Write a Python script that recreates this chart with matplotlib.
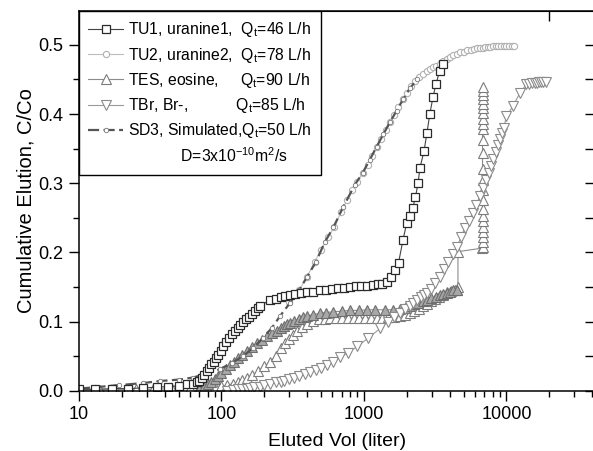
import matplotlib
matplotlib.use("Agg")
import matplotlib.pyplot as plt
from matplotlib.lines import Line2D
from matplotlib.ticker import LogLocator, MultipleLocator, FuncFormatter, NullFormatter, FixedLocator

plt.rcParams['font.family'] = ['Liberation Sans', 'DejaVu Sans']
plt.rcParams['mathtext.default'] = 'regular'

# TU1, uranine1 (squares)
tu1_x = [10, 13, 17, 22, 28, 35, 42, 50, 57, 63, 67, 70, 73, 76, 79, 82, 85, 88, 91, 95,
         99, 103, 108, 113, 118, 124, 130, 136, 142, 149, 156, 164, 172, 180, 187, 220, 240, 260, 280, 303,
         330, 360, 400, 440, 490, 540, 600, 660, 730, 800, 880, 960, 1050, 1150, 1250, 1350,
         1450, 1550, 1650, 1750, 1880, 2000, 2100, 2200, 2300, 2400, 2470, 2640, 2770, 2900,
         3050, 3200, 3400, 3600]
tu1_y = [0.002, 0.002, 0.003, 0.003, 0.004, 0.005, 0.006, 0.007, 0.009, 0.010, 0.012, 0.014, 0.018, 0.023, 0.028, 0.033, 0.038, 0.042, 0.047, 0.052,
         0.058, 0.064, 0.070, 0.076, 0.082, 0.087, 0.091, 0.095, 0.099, 0.103, 0.107, 0.111, 0.115, 0.119, 0.123, 0.131, 0.133, 0.135, 0.137, 0.138,
         0.140, 0.141, 0.142, 0.143, 0.145, 0.146, 0.147, 0.148, 0.149, 0.150, 0.151, 0.152, 0.152, 0.153, 0.154, 0.154,
         0.157, 0.165, 0.174, 0.185, 0.218, 0.243, 0.252, 0.264, 0.280, 0.300, 0.322, 0.346, 0.373, 0.400,
         0.424, 0.443, 0.462, 0.472]

# TU2, uranine2 (circles)
tu2_x = [300, 350, 400, 450, 500, 560, 620, 690, 760, 830, 900, 980, 1060, 1140, 1230, 1320, 1420, 1520, 1620, 1740,
         1880, 2000, 2150, 2300, 2450, 2600, 2750, 2900, 3050, 3200, 3400, 3600, 3800, 4000, 4250, 4500, 4750, 5000,
         5300, 5600, 5900, 6200, 6500, 6800, 7100, 7400, 7700, 8000, 8400, 8800, 9200, 9600, 10000, 10500, 11000, 11300]
tu2_y = [0.128, 0.145, 0.165, 0.186, 0.203, 0.222, 0.237, 0.258, 0.275, 0.290, 0.302, 0.315, 0.327, 0.340, 0.353, 0.364, 0.377, 0.388, 0.399, 0.410,
         0.421, 0.430, 0.440, 0.448, 0.453, 0.458, 0.462, 0.465, 0.468, 0.470, 0.473, 0.476, 0.479, 0.482, 0.485, 0.487, 0.489, 0.490,
         0.492, 0.493, 0.494, 0.495, 0.496, 0.496, 0.497, 0.497, 0.497, 0.498, 0.498, 0.498, 0.498, 0.499, 0.499, 0.499, 0.499, 0.499]

# TES, eosine (up triangles)
tes_x = [10, 14, 18, 25, 33, 45, 60, 70, 80, 90, 100, 110, 120, 130, 140, 150, 165, 180, 200, 220,
         240, 260, 280, 300, 320, 340, 370, 400, 440, 480, 530, 580, 640, 700, 770, 850, 930, 1020, 1120, 1230,
         1350, 1480, 1620, 1780, 1950, 2100, 2250, 2420, 2600, 2770, 2950, 3150, 3350, 3600, 3850, 4100, 4350, 4500, 4570, 4570,
         6700] + [6800] * 24
tes_y = [0.001, 0.001, 0.002, 0.002, 0.002, 0.003, 0.004, 0.004, 0.005, 0.006, 0.007, 0.008, 0.010, 0.012, 0.015, 0.018, 0.023, 0.028, 0.035, 0.042,
         0.050, 0.062, 0.069, 0.075, 0.080, 0.086, 0.092, 0.097, 0.101, 0.103, 0.104, 0.105, 0.105, 0.105, 0.105, 0.105, 0.105, 0.105, 0.105, 0.105,
         0.105, 0.106, 0.107, 0.108, 0.110, 0.112, 0.115, 0.118, 0.122, 0.125, 0.129, 0.133, 0.136, 0.139, 0.142, 0.144, 0.145, 0.146, 0.150, 0.201,
         0.206, 0.208, 0.215, 0.222, 0.230, 0.237, 0.245, 0.253, 0.262, 0.276, 0.290, 0.305, 0.320, 0.344, 0.363, 0.378, 0.386,
         0.393, 0.401, 0.408, 0.415, 0.422, 0.428, 0.434, 0.439]

# TES, dense upper band
tesb_x = [70, 75, 80, 85, 90, 95, 100, 107, 115, 122, 130, 140, 150, 163, 178, 193, 210, 228, 245, 260,
          275, 290, 303, 325, 350, 375, 398, 440, 490, 545, 605, 700, 800, 920, 1050, 1200, 1400, 1600, 1790, 1950,
          2100, 2250, 2400, 2580, 2770, 2980, 3200, 3400, 3600, 3800, 4000, 4250, 4500]
tesb_y = [0.003, 0.006, 0.009, 0.013, 0.017, 0.021, 0.025, 0.031, 0.037, 0.042, 0.047, 0.052, 0.057, 0.063, 0.069, 0.074, 0.079, 0.083, 0.087, 0.090,
          0.093, 0.096, 0.098, 0.101, 0.104, 0.106, 0.108, 0.110, 0.112, 0.113, 0.114, 0.115, 0.116, 0.116, 0.117, 0.117, 0.117, 0.117, 0.118, 0.120,
          0.123, 0.125, 0.127, 0.129, 0.131, 0.134, 0.136, 0.138, 0.140, 0.141, 0.143, 0.145, 0.146]

# TBr, Br- (down triangles)
tbr_x = [110, 120, 130, 140, 150, 158, 170, 185, 200, 220, 240, 260, 275, 300, 325, 350, 385, 417, 460, 500,
         550, 605, 680, 770, 900, 1070, 1300, 1470, 1630, 1790, 1950, 2100, 2200, 2350, 2500, 2630, 2770, 2950, 3150, 3400,
         3650, 3900, 4200, 4500, 4800, 5100, 5450, 5800, 6150, 6500, 6850, 7200, 7500, 7800, 8100, 8400, 8700, 9000, 9300, 9600,
         10000, 11100, 12400, 13800, 14500, 15200, 15800, 16400, 17000, 17600, 18200, 19000]
tbr_y = [0.000, 0.001, 0.002, 0.003, 0.003, 0.004, 0.005, 0.006, 0.008, 0.010, 0.012, 0.013, 0.014, 0.017, 0.019, 0.021, 0.024, 0.027, 0.030, 0.033,
         0.037, 0.042, 0.048, 0.055, 0.064, 0.076, 0.090, 0.100, 0.106, 0.112, 0.118, 0.123, 0.127, 0.131, 0.135, 0.138, 0.141, 0.147, 0.155, 0.165,
         0.176, 0.186, 0.197, 0.208, 0.222, 0.235, 0.246, 0.257, 0.269, 0.281, 0.293, 0.305, 0.315, 0.325, 0.335, 0.345, 0.355, 0.364, 0.372, 0.380,
         0.397, 0.411, 0.430, 0.443, 0.444, 0.445, 0.445, 0.445, 0.446, 0.446, 0.446, 0.447]

# SD3, simulated
sd3_x = [10, 13, 19, 28, 37, 50, 63, 80, 97, 118, 142, 167, 196, 226, 258, 303, 350, 400, 460, 532,
         610, 713, 865, 980, 1100, 1230, 1370, 1520, 1700, 1880, 2100, 2360]
sd3_y = [0.003, 0.005, 0.008, 0.011, 0.014, 0.016, 0.019, 0.025, 0.031, 0.040, 0.050, 0.062, 0.076, 0.091, 0.108, 0.127, 0.145, 0.165, 0.186, 0.215,
         0.236, 0.265, 0.298, 0.315, 0.334, 0.353, 0.371, 0.388, 0.405, 0.421, 0.437, 0.450]

labels = ['TU1, uranine1,  Q$_t$=46 L/h', 'TU2, uranine2,  Q$_t$=78 L/h', 'TES, eosine,     Q$_t$=90 L/h',
          'TBr, Br-,           Q$_t$=85 L/h', 'SD3, Simulated,Q$_t$=50 L/h', '            D=3x10$^{-10}$m$^2$/s']

fig = plt.figure(figsize=(5.93, 4.51), dpi=100)
ax = fig.add_axes([0.1332, 0.1337, 0.870, 0.842])

l_tes, = ax.plot(tes_x, tes_y, color='#8c8c8c', lw=0.8, marker='^', ms=6.5, mfc='white', mec='#7c7c7c', mew=0.8)
ax.plot(tesb_x, tesb_y, color='#8c8c8c', lw=0.8, marker='^', ms=6.5, mfc='#a8a8a8', mec='#6e6e6e', mew=0.8)
l_tbr, = ax.plot(tbr_x, tbr_y, color='#9a9a9a', lw=0.8, marker='v', ms=6.5, mfc='white', mec='#8a8a8a', mew=0.8)
l_tu2, = ax.plot(tu2_x, tu2_y, color='#bdbdbd', lw=0.8, marker='o', ms=4.5, mfc='white', mec='#b0b0b0', mew=0.8)
l_sd3, = ax.plot(sd3_x, sd3_y, color='#555555', lw=1.6, ls=(0, (5, 2)), marker='o', ms=3.2, mfc='white', mec='#777777', mew=0.6)
l_tu1, = ax.plot(tu1_x, tu1_y, color='#444444', lw=0.8, marker='s', ms=5.5, mfc='white', mec='#2a2a2a', mew=0.9)

ax.set_xscale('log')
ax.set_xlim(10, 41800)
ax.set_ylim(0, 0.549)

ax.xaxis.set_major_locator(LogLocator(base=10, numticks=10))
ax.xaxis.set_minor_locator(LogLocator(base=10, subs=range(2, 10), numticks=20))
ax.xaxis.set_major_formatter(FuncFormatter(lambda v, p: f"{v:g}"))
ax.xaxis.set_minor_formatter(NullFormatter())
ax.yaxis.set_major_locator(MultipleLocator(0.1))
ax.yaxis.set_minor_locator(MultipleLocator(0.05))
ax.yaxis.set_major_formatter(FuncFormatter(lambda v, p: f"{v:.1f}"))

ax.tick_params(which='major', direction='out', length=7, width=1, labelsize=13, pad=4)
ax.tick_params(which='minor', direction='out', length=4, width=1)
for s in ax.spines.values():
    s.set_linewidth(1.1)

sec = ax.secondary_yaxis('right')
sec.yaxis.set_major_locator(MultipleLocator(0.05))
sec.tick_params(direction='in', length=7, width=1, labelright=False)

top = ax.secondary_xaxis('top')
top.xaxis.set_major_locator(FixedLocator([20000]))
top.xaxis.set_minor_locator(FixedLocator([]))
top.tick_params(direction='in', length=7, width=1, labeltop=False)

ax.set_xlabel('Eluted Vol (liter)', fontsize=14, labelpad=7)
ax.set_ylabel('Cumulative Elution, C/Co', fontsize=14.5, labelpad=2)

blank = Line2D([], [], linestyle='none')
leg = ax.legend([l_tu1, l_tu2, l_tes, l_tbr, l_sd3, blank], labels,
                loc='upper left', bbox_to_anchor=(0, 1), borderaxespad=0, fontsize=11.3,
                fancybox=False, edgecolor='black', framealpha=1, handlelength=2.2,
                handletextpad=0.3, labelspacing=0.4, borderpad=0.6, numpoints=1)
leg.get_frame().set_linewidth(1.0)
leg.set_zorder(5)

fig.savefig('out.png', dpi=100)
